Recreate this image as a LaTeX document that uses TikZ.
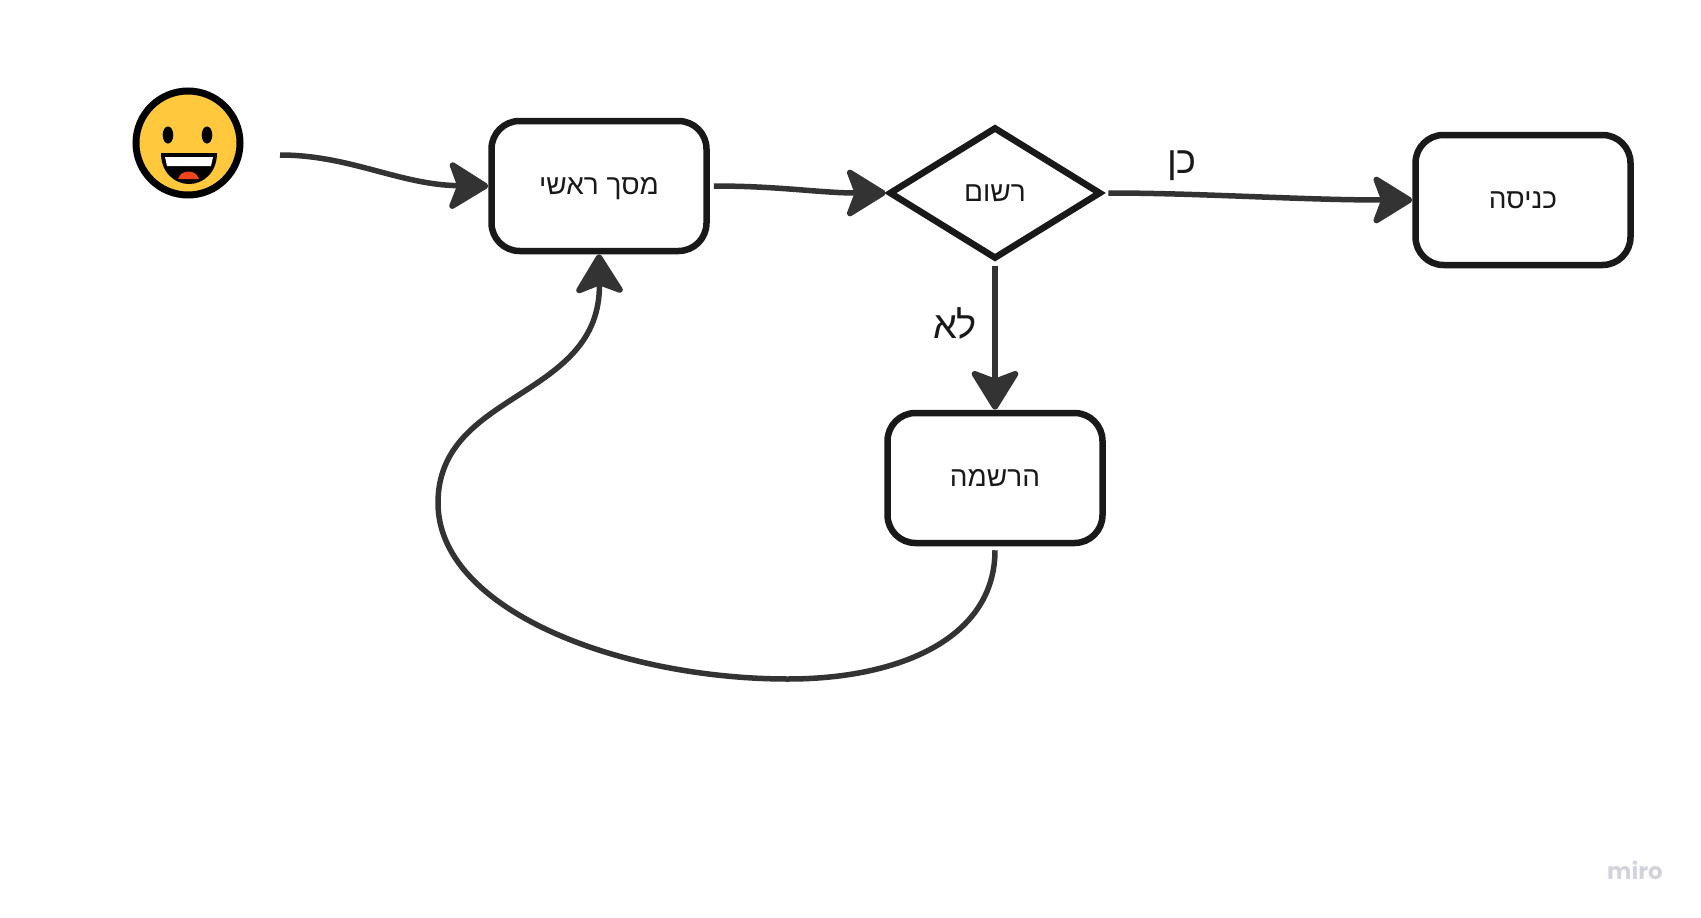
\documentclass[tikz,border=0pt]{standalone}
\usepackage{fontspec}
\usepackage{xcolor}
\usetikzlibrary{shapes.geometric}
\usetikzlibrary{arrows.meta}
\setmainfont[Script=Hebrew]{Liberation Sans}
\newfontfamily\mirofont{Poppins}
\TeXXeTstate=1
\definecolor{Line}{rgb}{0.2, 0.2, 0.2}
\definecolor{Frame}{rgb}{0.1, 0.1, 0.1}
\definecolor{Face}{HTML}{FFC83D}
\definecolor{Tongue}{HTML}{F0431E}
\definecolor{Mark}{HTML}{D2D3DC}
\tikzset{
	flowbox/.style={draw=Frame, line width=6.5pt, rounded corners=28pt, minimum width=215pt, minimum height=130pt, inner sep=0pt, text=Frame, text depth=0pt, font=\fontsize{28}{30}\selectfont},
	flowdiamond/.style={diamond, draw=Frame, line width=6.5pt, aspect=1.62, minimum width=212pt, minimum height=132pt, inner sep=0pt, text=Frame, text depth=0pt, font=\fontsize{28}{30}\selectfont},
	flowline/.style={draw=Line, line width=5.5pt, -{Stealth[length=44pt, width=54pt, inset=10pt, round, line width=6pt]}},
	flowlabel/.style={inner sep=0pt, text=Frame, font=\fontsize{38}{42}\selectfont},
}

\begin{document}
\begin{tikzpicture}[x=1pt, y=-1pt]
	\useasboundingbox (0,0) rectangle (1701,918);
	\node[flowbox] (mainbox) at (599,186) {\beginR מסך ראשי\endR};
	\node[flowdiamond] (isreg) at (995,193) {\beginR רשום\endR};
	\node[flowbox] (entrybox) at (1523,200) {\beginR כניסה\endR};
	\node[flowbox] (regbox) at (995,478) {\beginR הרשמה\endR};
	\node[flowlabel] (yeslabel) at (1182,166) {\beginR כן\endR};
	\node[flowlabel] (nolabel) at (955,323) {\beginR לא\endR};
	\node[inner sep=0pt, text=Mark, font=\mirofont\bfseries\fontsize{23}{26}\selectfont] (miro) at (1635,870) {miro};

	\node[circle, draw=black, line width=7pt, fill=Face, minimum size=104pt, inner sep=0pt] (smiley) at (188,143) {};
	\fill[black] (168,135) ellipse (5.3 and 8.5);
	\fill[black] (207,135) ellipse (5.3 and 8.5);
	\fill[black] (161,153) -- (217,153) .. controls (217,173) and (203,184) .. (189,184) .. controls (175,184) and (161,173) .. (161,153) -- cycle;
	\fill[white] (165,157) -- (213,157) -- (211,166) -- (167,166) -- cycle;
	\fill[Tongue] (178,179) .. controls (181,169) and (196,169) .. (199,179) -- cycle;

	\coordinate (startpt) at (280,155);
	\draw[flowline] (startpt) .. controls (350,155) and (400,185) .. (mainbox.west);
	\draw[flowline, shorten <=4pt] (mainbox.east) .. controls (780,186) and (820,193) .. (isreg.west);
	\draw[flowline, shorten <=4pt] (isreg.east) .. controls (1200,193) and (1300,200) .. (entrybox.west);
	\draw[flowline, shorten <=4pt] (isreg.south) -- (regbox.north);
	\draw[flowline, shorten <=4pt] (regbox.south) .. controls (995,638) and (900,679) .. (788,679) .. controls (620,679) and (438,610) .. (438,503) .. controls (438,390) and (601,400) .. (mainbox.south);
\end{tikzpicture}
\end{document}
